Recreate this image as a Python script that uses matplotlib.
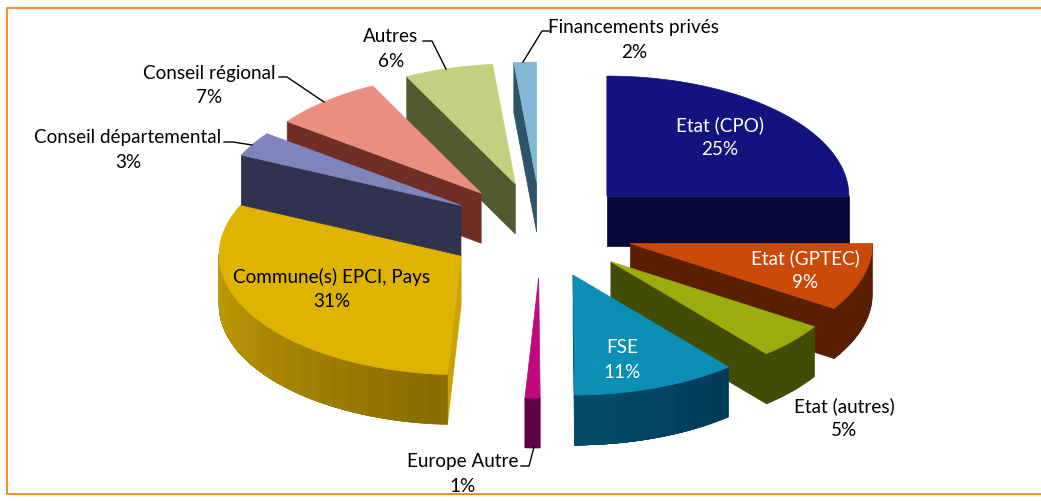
import matplotlib
matplotlib.use("Agg")
import matplotlib.pyplot as plt
import numpy as np
from matplotlib.colors import to_rgb
from matplotlib.patches import Polygon

names = ["Etat (CPO)", "Etat (GPTEC)", "Etat (autres)", "FSE", "Europe Autre",
         "Commune(s) EPCI, Pays", "Conseil départemental", "Conseil régional",
         "Autres", "Financements privés"]
values = [25.0, 9.1, 4.8, 11.0, 1.0, 31.0, 3.3, 7.4, 5.9, 1.5]
pct_labels = ["25%", "9%", "5%", "11%", "1%", "31%", "3%", "7%", "6%", "2%"]

# couleurs
top_col = ["#13137f", "#cc4a08", "#9aad0c", "#0b8fb5", "#bf0a7e",
           "#dfb400", "#7f85bb", "#e98f80", "#c3d07f", "#82b8d2"]
wall_col = ["#05063a", "#5a1f00", "#434c05", "#003c58", "#5f0048",
            "#c9a200", "#31324f", "#6f2f27", "#535a30", "#2d5468"]
arc_start = ["#05063a", "#5a1f00", "#434c05", "#003c58", "#5f0048",
             "#8a6c00", "#31324f", "#6f2f27", "#535a30", "#2d5468"]
arc_end = ["#05063a", "#5a1f00", "#434c05", "#024c6a", "#5f0048",
           "#c29c05", "#31324f", "#6f2f27", "#535a30", "#2d5468"]
text_col = ["white", "white", "black", "white", "black",
            "black", "black", "black", "black", "black"]

# geometrie du camembert (pixels)
cx, cy = 541, 231
rx, ry = 242, 120
depth = 50
explode_x, explode_y = 0.385, 0.4
draw_order = [9, 8, 7, 0, 1, 2, 3, 5, 6, 4]

# position des textes
label_xy = [(720, 125), (805, 258), (844, 406), (622, 348), (463, 462),
            (332, 277), (128, 138), (209, 73), (391, 37), (634, 28)]
line_gap = 24.5
leaders = [
    [(521, 467), (529, 467), (534, 448)],
    [(549, 32), (542, 32), (523, 63)],
    [(423, 42), (432, 42), (446, 70)],
    [(279, 78), (287, 78), (324, 103)],
    [(224, 143), (233, 143), (252, 146)],
]

plt.rcParams['font.family'] = ['Lato', 'DejaVu Sans']

fig = plt.figure(figsize=(10.41, 5.02), dpi=100)
ax = fig.add_axes([0, 0, 1, 1])
ax.set_xlim(0, 1041)
ax.set_ylim(502, 0)
ax.axis("off")

# cadre orange ouvert a droite
ax.plot([1041, 6.5, 6.5, 1041], [9, 9, 495, 495], color="#f58220", lw=1.3)


def point(ox, oy, a):
    return ox + rx*np.sin(a), oy - ry*np.cos(a)


edges = np.cumsum([0] + values) / sum(values) * 2*np.pi

for i in draw_order:
    a1, a2 = edges[i], edges[i+1]
    mid = (a1 + a2) / 2
    ox = cx + explode_x*rx*np.sin(mid)
    oy = cy - explode_y*ry*np.cos(mid)

    # face radiale visible
    a_wall = None
    if np.sin(a1) < -0.001:
        a_wall = a1
    elif np.sin(a2) > 0.001:
        a_wall = a2
    if a_wall is not None:
        px, py = point(ox, oy, a_wall)
        ax.add_patch(Polygon([(ox, oy), (px, py), (px, py+depth), (ox, oy+depth)],
                             fc=wall_col[i], ec=wall_col[i], lw=0.5))

    # bord arrondi : fond uni puis bandes qui se chevauchent
    b1, b2 = max(a1, np.pi/2), min(a2, 3*np.pi/2)
    if b2 > b1:
        n = max(2, int((b2-b1)*12))
        ts = np.linspace(b1, b2, n*6+1)
        c1, c2 = np.array(to_rgb(arc_start[i])), np.array(to_rgb(arc_end[i]))
        xs, ys = point(ox, oy, ts)
        outline = np.vstack([np.column_stack([xs, ys]),
                             np.column_stack([xs[::-1], ys[::-1]+depth])])
        ax.add_patch(Polygon(outline, fc=c1, ec=c1, lw=0.5))
        # chaque bande couvre tout le reste de l'arc, donc pas de joint visible
        for k in range(1, n):
            c = np.clip(c1 + (c2-c1)*k/(n-1), 0, 1)
            j = k*6
            rest = np.vstack([np.column_stack([xs[j:], ys[j:]]),
                              np.column_stack([xs[j:][::-1], ys[j:][::-1]+depth])])
            ax.add_patch(Polygon(rest, fc=c, ec=c, lw=0.3))

    # dessus
    ts = np.linspace(a1, a2, 80)
    xs, ys = point(ox, oy, ts)
    ax.add_patch(Polygon(np.vstack([[ox, oy], np.column_stack([xs, ys])]),
                         fc=top_col[i], ec=top_col[i], lw=0.5))

for pts in leaders:
    ax.plot([p[0] for p in pts], [p[1] for p in pts], color="black", lw=1)

for i, (x, y) in enumerate(label_xy):
    ax.text(x, y, names[i], color=text_col[i], fontsize=13.6, ha="center", va="center")
    ax.text(x, y+line_gap, pct_labels[i], color=text_col[i], fontsize=13.6,
            ha="center", va="center")

fig.savefig("out.png", dpi=100)
